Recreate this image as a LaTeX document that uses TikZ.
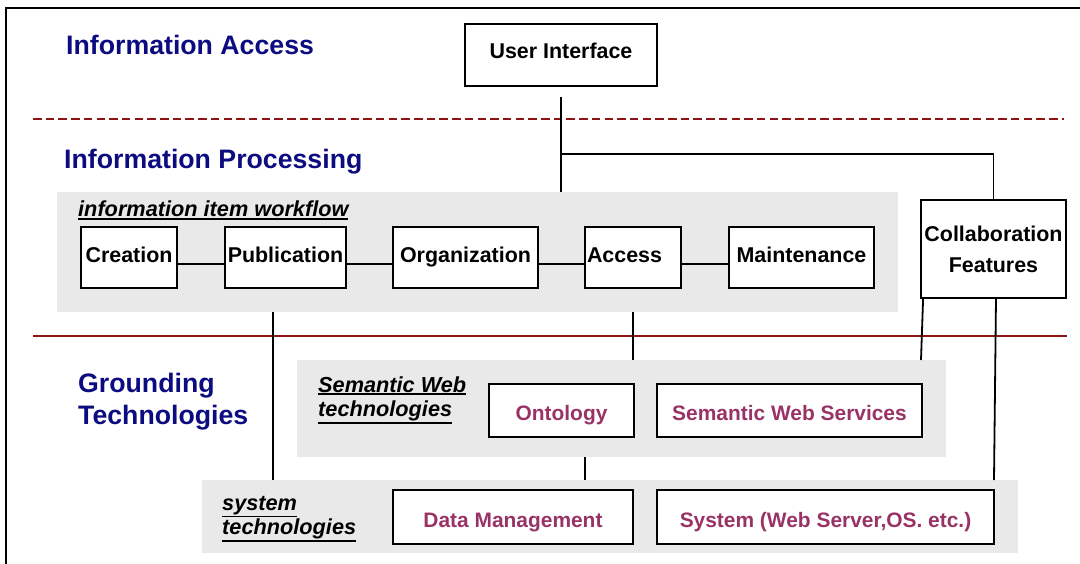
\documentclass[tikz,border=0pt]{standalone}
\usepackage{fontspec}
\setmainfont{Liberation Sans}
\definecolor{navy}{RGB}{12,12,128}
\definecolor{purp}{RGB}{153,51,102}
\definecolor{dred}{RGB}{140,20,20}
\definecolor{panelgrey}{RGB}{233,233,233}
\newcommand\myul[1]{\vtop{\hbox{#1}\kern1pt\hrule height 1.8pt}}
\newcommand\twoline[2]{\vtop{\hbox{#1}\hbox{#2}}}
\begin{document}
\begin{tikzpicture}[x=1bp,y=-1bp,
  frame/.style={line width=2bp,black},
  conn/.style={line width=1.8bp,black},
  panel/.style={fill=panelgrey,draw=none,inner sep=0pt},
  bbox/.style={draw=black,line width=1.8bp,fill=white,inner sep=0pt,
    font=\bfseries\fontsize{21.5}{26}\selectfont,text height=15.5pt,text depth=5pt},
  pbox/.style={draw=black,line width=1.8bp,fill=white,inner sep=0pt,text=purp,
    font=\bfseries\fontsize{21}{26}\selectfont,text height=21pt,text depth=0pt},
  heading/.style={text=navy,inner sep=0pt,anchor=base west,
    font=\bfseries\fontsize{26.8}{33}\selectfont},
  tag/.style={inner sep=0pt,anchor=base west,
    font=\bfseries\itshape\fontsize{21.8}{25}\selectfont},
  sepline/.style={line width=2bp,dred}]
\useasboundingbox (0,0) rectangle (1080,564);
% frame
\draw[frame] (6,570) -- (6,8) -- (1085,8);
% layer separators
\coordinate (dl) at (33,119); \coordinate (dr) at (1064,119);
\draw[sepline,dash pattern=on 8.5bp off 4.2bp] (dl) -- (dr);
\coordinate (sl) at (33,336); \coordinate (sr) at (1067,336);
\draw[sepline] (sl) -- (sr);
% headings
\node[heading] (hAccess) at (66,55) {Information Access};
\node[heading] (hProc) at (64,169) {Information Processing};
\node[heading] (hGround) at (78,392) {\twoline{Grounding}{Technologies}};
% panels
\node[panel,minimum width=841bp,minimum height=120bp] (wf) at (477.5,252) {};
\node[panel,minimum width=649bp,minimum height=97bp] (sw) at (621.5,408.5) {};
\node[panel,minimum width=816bp,minimum height=73bp] (sys) at (610,516.5) {};
% tags
\node[tag] (tWf) at (78,217) {\myul{information item workflow}};
\node[tag] (tSw) at (318,392) {\twoline{\myul{Semantic Web}}{\myul{technologies}}};
\node[tag] (tSys) at (222,510) {\twoline{\myul{system}}{\myul{technologies}}};
% top box
\node[bbox,minimum width=192bp,minimum height=62bp,text depth=8pt] (ui) at (561,55) {User Interface};
% workflow boxes
\node[bbox,minimum width=96bp,minimum height=61bp] (creation) at (129,257.5) {Creation};
\node[bbox,minimum width=121bp,minimum height=61bp] (publication) at (285.5,257.5) {Publication};
\node[bbox,minimum width=145bp,minimum height=61bp] (organization) at (465.5,257.5) {Organization};
\node[bbox,minimum width=96bp,minimum height=61bp] (access) at (633,257.5) {\makebox[92bp][l]{Access}};
\node[bbox,minimum width=145bp,minimum height=61bp] (maintenance) at (801.5,257.5) {Maintenance};
\node[draw=black,line width=1.8bp,fill=white,inner sep=0pt,align=center,
  font=\bfseries\fontsize{21.5}{31}\selectfont,
  minimum width=145bp,minimum height=98bp] (collab) at (993.5,249) {Collaboration\\Features};
% grounding boxes
\node[pbox,minimum width=145bp,minimum height=53bp] (onto) at (561.5,410.5) {Ontology};
\node[pbox,minimum width=265bp,minimum height=53bp] (sws) at (789.5,410.5) {Semantic Web Services};
\node[pbox,minimum width=240bp,minimum height=54bp] (dm) at (513,517) {Data Management};
\node[pbox,minimum width=337bp,minimum height=54bp] (sysb) at (825.5,517) {System (Web Server,OS. etc.)};
% connectors
\coordinate (uitap) at (561,97);
\draw[conn] (uitap) -- (uitap |- wf.north);
\coordinate (br) at (561,154);
\draw[conn] (br) -| (collab.north);
\draw[conn] ([yshift=-6.5pt]creation.east) -- ([yshift=-6.5pt]publication.west);
\draw[conn] ([yshift=-6.5pt]publication.east) -- ([yshift=-6.5pt]organization.west);
\draw[conn] ([yshift=-6.5pt]organization.east) -- ([yshift=-6.5pt]access.west);
\draw[conn] ([yshift=-6.5pt]access.east) -- ([yshift=-6.5pt]maintenance.west);
\coordinate (pubtap) at (273,312);
\draw[conn] (pubtap) -- (pubtap |- sys.north);
\draw[conn] (access |- wf.south) -- (access |- sw.north);
\coordinate (c1) at (921,360);
\draw[conn] ([xshift=3pt]collab.south west) -- (c1);
\coordinate (c2) at (994,480);
\draw[conn] ([xshift=2.5pt]collab.south) -- (c2);
\coordinate (otap) at (585,457);
\draw[conn] (otap) -- (otap |- sys.north);
\end{tikzpicture}
\end{document}
